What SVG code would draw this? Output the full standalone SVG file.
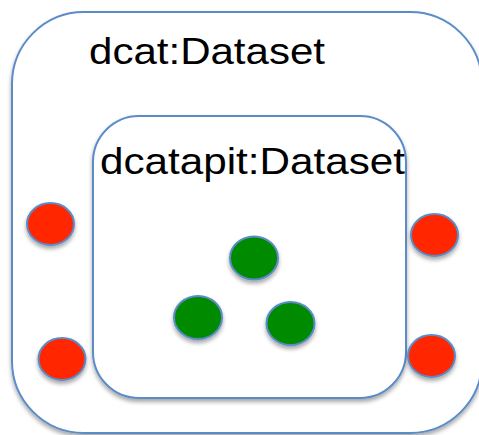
<svg xmlns="http://www.w3.org/2000/svg" width="479" height="435" viewBox="0 0 479 435">
<defs>
<filter id="sh" x="-20%" y="-20%" width="140%" height="150%">
<feGaussianBlur in="SourceAlpha" stdDeviation="2"/>
<feOffset dx="0" dy="3" result="o"/>
<feComponentTransfer><feFuncA type="linear" slope="0.35"/></feComponentTransfer>
<feMerge><feMergeNode/><feMergeNode in="SourceGraphic"/></feMerge>
</filter>
</defs>
<style>
.box{fill:#ffffff;stroke:#5b8cc8;stroke-width:2}
.red{fill:#ff2600;stroke:#5b8cc8;stroke-width:2}
.green{fill:#008a00;stroke:#5b8cc8;stroke-width:2}
.lbl{font-family:"Liberation Sans",Arial,sans-serif;fill:#000000}
</style>
<g id="dcat-dataset">
<rect class="box" x="12" y="12" width="470" height="421" rx="72" ry="72" filter="url(#sh)"/>
<text class="lbl" x="89" y="64" font-size="36" textLength="236" lengthAdjust="spacingAndGlyphs">dcat:Dataset</text>
</g>
<g id="dcatapit-dataset">
<rect class="box" x="93" y="116" width="313" height="282" rx="46" ry="46" filter="url(#sh)"/>
<text class="lbl" x="100" y="174" font-size="37" textLength="305" lengthAdjust="spacingAndGlyphs">dcatapit:Dataset</text>
</g>
<g id="red-1"><ellipse class="red" cx="50.5" cy="224" rx="23.5" ry="21" filter="url(#sh)"/></g>
<g id="red-2"><ellipse class="red" cx="62" cy="359" rx="23.5" ry="21" filter="url(#sh)"/></g>
<g id="red-3"><ellipse class="red" cx="434.5" cy="235" rx="23.5" ry="21" filter="url(#sh)"/></g>
<g id="red-4"><ellipse class="red" cx="431.5" cy="356" rx="23.5" ry="21" filter="url(#sh)"/></g>
<g id="green-1"><ellipse class="green" cx="254" cy="258" rx="24" ry="21.5" filter="url(#sh)"/></g>
<g id="green-2"><ellipse class="green" cx="198" cy="317.5" rx="24" ry="21.5" filter="url(#sh)"/></g>
<g id="green-3"><ellipse class="green" cx="290.5" cy="323.5" rx="24" ry="21.5" filter="url(#sh)"/></g>
<g id="connectors"></g>
</svg>
